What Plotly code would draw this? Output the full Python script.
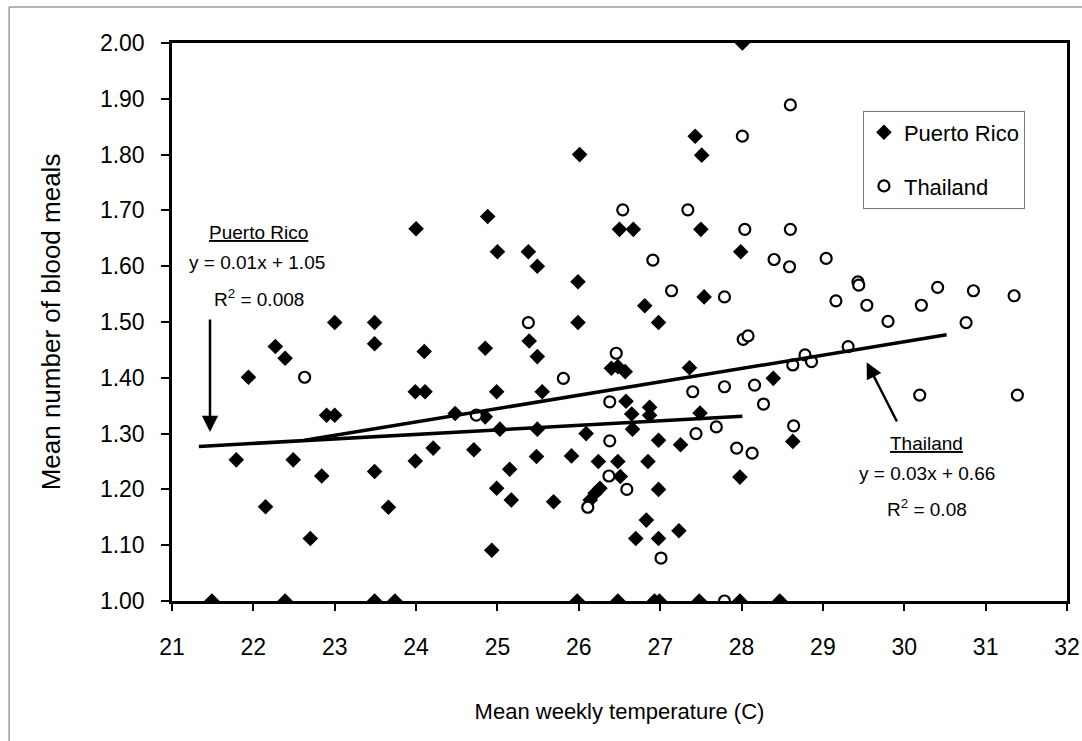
import plotly.graph_objects as go

# ---------------- data ----------------
pr_x = [21.49, 22.39, 23.49, 23.74, 25.98, 26.48, 26.93, 26.99, 27.48, 27.98, 28.47,
        21.79, 21.94, 22.15, 22.27, 22.39, 22.49, 22.70, 22.84, 22.90, 23.00, 23.00,
        23.49, 23.49, 23.49, 23.66, 23.99, 24.11, 24.10, 24.00, 23.99, 24.21, 24.48,
        24.71, 24.85, 24.85, 24.88, 24.93, 24.99, 24.99, 25.00, 25.03, 25.15, 25.17,
        25.38, 25.39, 25.49, 25.49, 25.49, 25.48, 25.55, 25.69, 25.91, 25.99, 25.99,
        26.01, 26.09, 26.14, 26.20, 26.26, 26.24, 26.40, 26.48, 26.57, 26.50, 26.67,
        26.48, 26.51, 26.58, 26.65, 26.66, 26.70, 26.81, 26.83, 26.85, 26.87, 26.87,
        26.98, 26.98, 26.98, 26.98, 27.23, 27.25, 27.36, 27.43, 27.49, 27.50, 27.51,
        27.54, 27.98, 27.99, 28.01, 28.39, 28.63]
pr_y = [1.000, 1.000, 1.000, 1.000, 1.000, 1.000, 1.000, 1.000, 1.000, 1.000, 1.000,
        1.253, 1.401, 1.169, 1.456, 1.435, 1.253, 1.112, 1.224, 1.333, 1.333, 1.499,
        1.499, 1.461, 1.232, 1.168, 1.375, 1.375, 1.447, 1.667, 1.251, 1.274, 1.336,
        1.271, 1.453, 1.330, 1.689, 1.091, 1.375, 1.202, 1.626, 1.308, 1.236, 1.181,
        1.626, 1.466, 1.600, 1.438, 1.308, 1.259, 1.375, 1.178, 1.260, 1.572, 1.499,
        1.800, 1.300, 1.181, 1.193, 1.202, 1.250, 1.417, 1.420, 1.411, 1.666, 1.666,
        1.250, 1.223, 1.358, 1.335, 1.308, 1.112, 1.529, 1.145, 1.250, 1.347, 1.333,
        1.499, 1.288, 1.200, 1.112, 1.126, 1.280, 1.418, 1.833, 1.337, 1.666, 1.799,
        1.545, 1.222, 1.626, 2.000, 1.399, 1.286]

th_x = [22.63, 24.74, 25.38, 25.81, 26.11, 26.38, 26.38, 26.37, 26.46, 26.54, 26.59,
        26.91, 27.01, 27.14, 27.34, 27.40, 27.44, 27.69, 27.79, 27.79, 27.79, 27.94,
        28.01, 28.04, 28.02, 28.08, 28.13, 28.16, 28.27, 28.40, 28.60, 28.60, 28.59,
        28.63, 28.64, 28.78, 28.86, 29.04, 29.16, 29.31, 29.43, 29.44, 29.54, 29.80,
        30.19, 30.21, 30.41, 30.76, 30.85, 31.35, 31.39]
th_y = [1.401, 1.333, 1.499, 1.399, 1.168, 1.357, 1.287, 1.224, 1.444, 1.701, 1.200,
        1.611, 1.077, 1.556, 1.701, 1.375, 1.300, 1.312, 1.384, 1.545, 1.000, 1.274,
        1.833, 1.666, 1.469, 1.475, 1.265, 1.387, 1.353, 1.612, 1.889, 1.666, 1.599,
        1.423, 1.314, 1.441, 1.429, 1.614, 1.538, 1.456, 1.572, 1.566, 1.530, 1.501,
        1.369, 1.530, 1.562, 1.499, 1.556, 1.547, 1.369]

# fitted trend lines (end points as drawn)
pr_fit_x = [21.33, 28.01]
pr_fit_y = [1.277, 1.331]
th_fit_x = [22.63, 30.52]
th_fit_y = [1.288, 1.477]

x_ticks = list(range(21, 33))
y_ticks = [1.0, 1.1, 1.2, 1.3, 1.4, 1.5, 1.6, 1.7, 1.8, 1.9, 2.0]

FONT = "Liberation Sans, Arial, sans-serif"

fig = go.Figure()
fig.add_trace(go.Scatter(
    x=pr_x, y=pr_y, mode="markers", name="Puerto Rico",
    legendgroup="pr",
    marker=dict(symbol="diamond", size=12, color="black", line=dict(width=0)),
))
fig.add_trace(go.Scatter(
    x=th_x, y=th_y, mode="markers", name="Thailand",
    legendgroup="th",
    marker=dict(symbol="circle", size=11, color="white",
                line=dict(width=2.2, color="black")),
))
fig.add_trace(go.Scatter(
    x=pr_fit_x, y=pr_fit_y, mode="lines", showlegend=False,
    line=dict(color="black", width=3.5),
))
fig.add_trace(go.Scatter(
    x=th_fit_x, y=th_fit_y, mode="lines", showlegend=False,
    line=dict(color="black", width=3.5),
))

ann_font = dict(family=FONT, size=19, color="black")
annotations = [
    dict(x=22.06, y=1.661, text="<u>Puerto Rico</u>", showarrow=False, font=ann_font),
    dict(x=22.04, y=1.606, text="y = 0.01x + 1.05", showarrow=False, font=ann_font),
    dict(x=22.07, y=1.543, text="R<sup>2</sup> = 0.008", showarrow=False, font=ann_font),
    dict(x=30.275, y=1.283, text="<u>Thailand</u>", showarrow=False, font=ann_font),
    dict(x=30.28, y=1.228, text="y = 0.03x + 0.66", showarrow=False, font=ann_font),
    dict(x=30.28, y=1.167, text="R<sup>2</sup> = 0.08", showarrow=False, font=ann_font),
    # arrows
    dict(x=21.467, y=1.303, ax=21.467, ay=1.507, axref="x", ayref="y",
         text="", showarrow=True, arrowhead=2, arrowsize=1.3, arrowwidth=2.5,
         arrowcolor="black", standoff=0, startstandoff=0),
    dict(x=29.538, y=1.428, ax=29.919, ay=1.319, axref="x", ayref="y",
         text="", showarrow=True, arrowhead=2, arrowsize=1.3, arrowwidth=2.5,
         arrowcolor="black", standoff=0, startstandoff=0),
]

shapes = [
    # outer scanned-frame border (left and top)
    dict(type="line", xref="paper", yref="paper", x0=-0.182, x1=-0.182,
         y0=-0.26, y1=1.0645, line=dict(color="#9a9a9a", width=1.5)),
    dict(type="line", xref="paper", yref="paper", x0=-0.182, x1=1.02,
         y0=1.0645, y1=1.0645, line=dict(color="#9a9a9a", width=1.5)),
]

fig.update_layout(
    width=1082, height=741,
    margin=dict(l=172, r=15, t=43, b=140, autoexpand=False),
    paper_bgcolor="white", plot_bgcolor="white",
    font=dict(family=FONT, color="black"),
    showlegend=True,
    legend=dict(
        x=0.772, y=0.879, xanchor="left", yanchor="top",
        bordercolor="#777777", borderwidth=1, bgcolor="white",
        font=dict(family=FONT, size=22, color="black"),
        traceorder="grouped", tracegroupgap=22,
    ),
    annotations=annotations,
    shapes=shapes,
    xaxis=dict(
        range=[21, 32], tickmode="array", tickvals=x_ticks,
        ticktext=[str(v) for v in x_ticks],
        ticks="outside", ticklen=7, tickwidth=1.5, tickcolor="black",
        showline=True, linewidth=2.5, linecolor="black", mirror=True,
        showgrid=False, zeroline=False, automargin=False,
        tickfont=dict(family=FONT, size=23, color="black"),
        ticklabelstandoff=17,
        title=dict(text="Mean weekly temperature (C)",
                   font=dict(family=FONT, size=22, color="black"), standoff=45),
    ),
    yaxis=dict(
        range=[1, 2], tickmode="array", tickvals=y_ticks,
        ticktext=[f"{v:.2f}" for v in y_ticks],
        ticks="outside", ticklen=8, tickwidth=1.5, tickcolor="black",
        showline=True, linewidth=2.5, linecolor="black", mirror=True,
        showgrid=False, zeroline=False, automargin=False,
        tickfont=dict(family=FONT, size=23, color="black"),
        ticklabelstandoff=12,
        title=dict(text="Mean number of blood meals",
                   font=dict(family=FONT, size=26, color="black"), standoff=32),
    ),
)

fig.write_html("out.html")
